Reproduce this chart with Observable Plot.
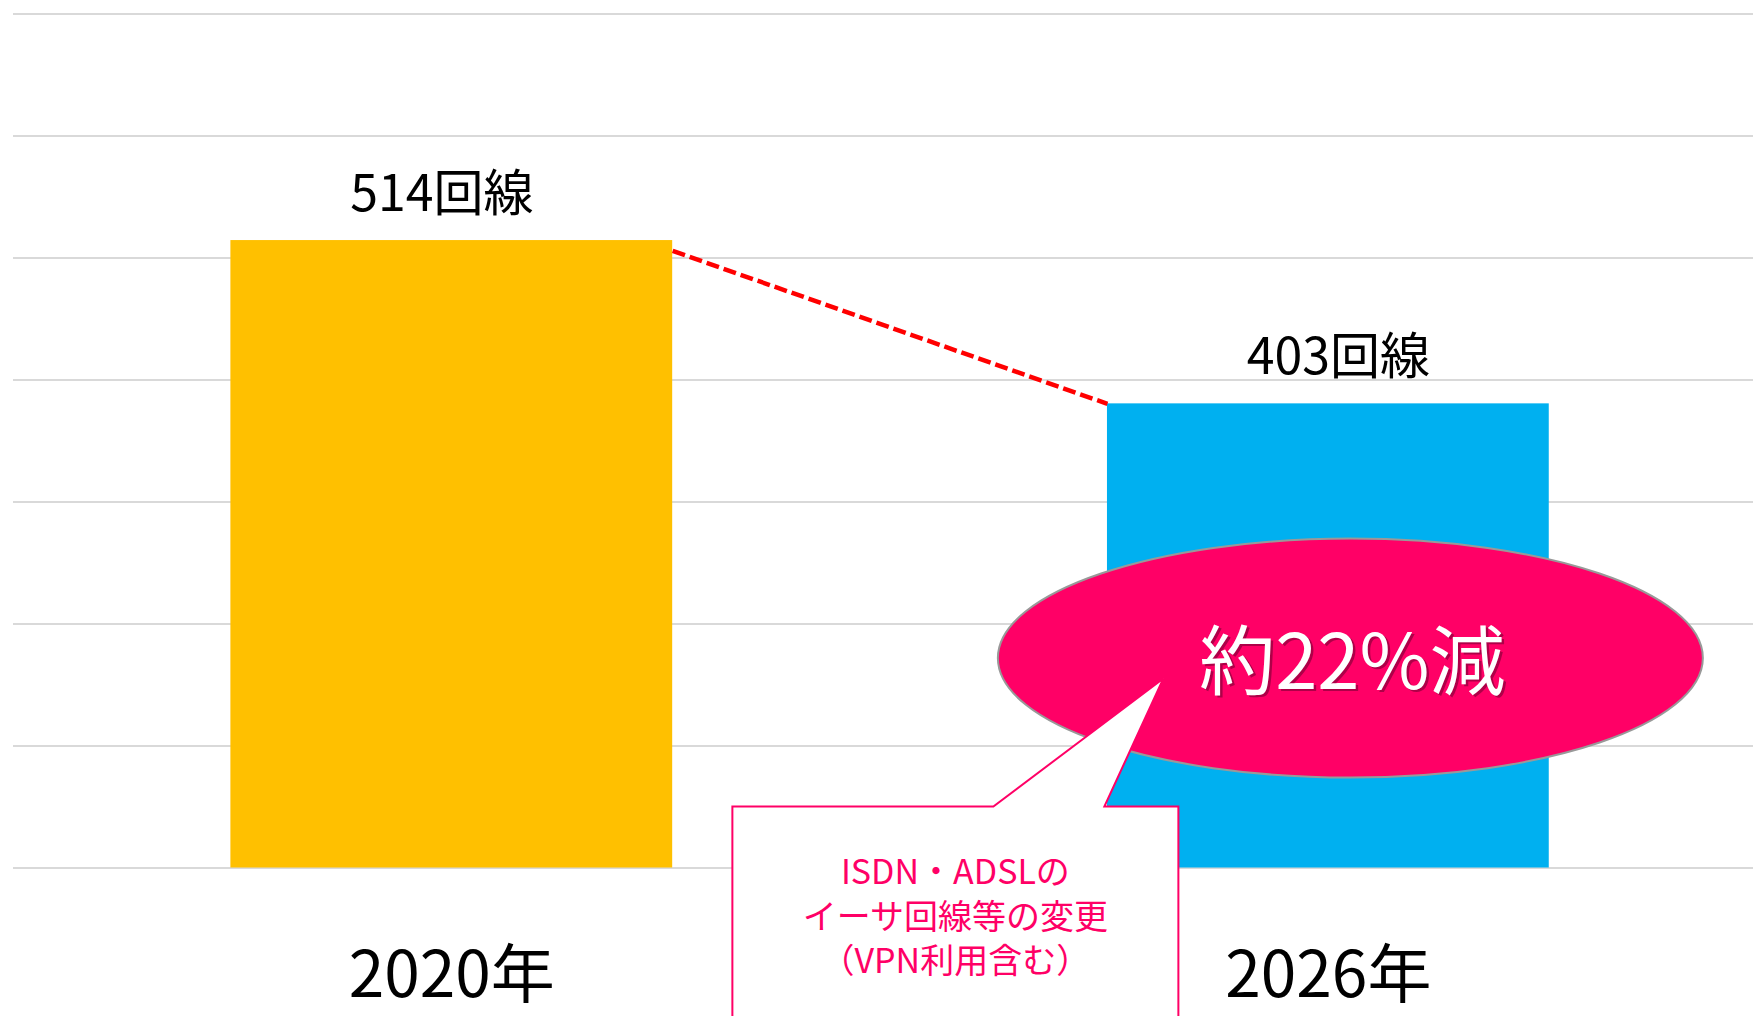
<!DOCTYPE html>
<html>
<head>
<meta charset="utf-8">
<script src="https://cdn.jsdelivr.net/npm/d3@7"></script>
<script src="https://cdn.jsdelivr.net/npm/@observablehq/plot@0.6"></script>
<style>
  html, body { margin: 0; padding: 0; background: #ffffff; overflow: hidden; }
  #chart svg { display: block; }
</style>
</head>
<body>
<div id="chart"></div>
<script>
// ---- data ----
const years = ["2020年", "2026年"];
const lineCounts = [514, 403];
const valueLabels = ["514回線", "403回線"];
const reductionLabel = "約22%減";
const noteLines = ["ISDN・ADSLの", "イーサ回線等の変更", "（VPN利用含む）"];
const barColors = ["#FFC000", "#00B0F0"];

// value axis (no labels shown in the original; 7 equal grid intervals)
const yDomain = [87.5, 668];
const gridValues = d3.range(8).map(i => yDomain[0] + i * (yDomain[1] - yDomain[0]) / 7);

// ---- build table ----
const bars = years.map((year, i) => ({i, year, value: lineCounts[i], label: valueLabels[i], color: barColors[i]}));
const half = 0.252; // half bar width in category units

// annotation anchors (in data space)
const bubble = {x: 1.0251, y: 230.2};
const note = {x: 0.5745, y: 129.3};

// custom shapes
const ellipseSymbol = {
  draw(context) {
    const rx = 352.5, ry = 119.5, k = 0.5523;
    context.moveTo(-rx, 0);
    context.bezierCurveTo(-rx, -ry * k, -rx * k, -ry, 0, -ry);
    context.bezierCurveTo(rx * k, -ry, rx, -ry * k, rx, 0);
    context.bezierCurveTo(rx, ry * k, rx * k, ry, 0, ry);
    context.bezierCurveTo(-rx * k, ry, -rx, ry * k, -rx, 0);
    context.closePath();
  }
};
const calloutSymbol = {
  draw(context) {
    context.moveTo(-223, 0);
    context.lineTo(38, 0);
    context.lineTo(208, -128);
    context.lineTo(149, 0);
    context.lineTo(223, 0);
    context.lineTo(223, 280);
    context.lineTo(-223, 280);
    context.closePath();
  }
};

const font = "'Noto Sans CJK JP', 'Noto Sans', sans-serif";

const chart = Plot.plot({
  width: 1753,
  height: 1016,
  marginTop: 13.5,
  marginBottom: 148.5,
  marginLeft: 13,
  marginRight: 0,
  style: {fontFamily: font, background: "#ffffff", overflow: "hidden"},
  x: {domain: [-0.5, 1.485], axis: null},
  y: {domain: yDomain, axis: null},
  marks: [
    Plot.ruleY(gridValues, {stroke: "#d9d9d9", strokeWidth: 2}),
    Plot.rectY(bars, {
      x1: d => d.i - half, x2: d => d.i + half,
      y1: () => yDomain[0], y2: "value",
      fill: "color"
    }),
    Plot.link([bars], {
      x1: d => d[0].i + half, y1: d => d[0].value - 7,
      x2: d => d[1].i - half, y2: d => d[1].value,
      stroke: "#FF0000", strokeWidth: 4.5, strokeDasharray: "13,5"
    }),
    Plot.text(bars.slice(0, 1), {x: "i", y: "value", text: "label", dy: -46, dx: -10, fontSize: 50, fill: "#000"}),
    Plot.text(bars.slice(1), {x: "i", y: "value", text: "label", dy: -46, dx: 10, fontSize: 50, fill: "#000"}),
    Plot.text(bars, {x: "i", y: () => yDomain[0], text: "year", dy: 109, fontSize: 64, fill: "#000"}),
    Plot.dot([bubble], {x: "x", y: "y", symbol: ellipseSymbol, fill: "#FF0066", stroke: "#999999", strokeWidth: 2}),
    Plot.text([bubble], {x: "x", y: "y", text: () => reductionLabel, dx: 4.5, dy: 9, fontSize: 76, fill: "#6b0030", fillOpacity: 0.55}),
    Plot.text([bubble], {x: "x", y: "y", text: () => reductionLabel, dx: 2, dy: 6.5, fontSize: 76, fill: "#ffffff"}),
    Plot.dot([note], {x: "x", y: "y", symbol: calloutSymbol, fill: "#ffffff", stroke: "#FF0066", strokeWidth: 2}),
    Plot.text([note], {x: "x", y: "y", text: () => noteLines.join("\n"), dy: 108, fontSize: 34, lineHeight: 1.3, fill: "#FF0066"})
  ]
});

document.getElementById("chart").appendChild(chart);
</script>
</body>
</html>
